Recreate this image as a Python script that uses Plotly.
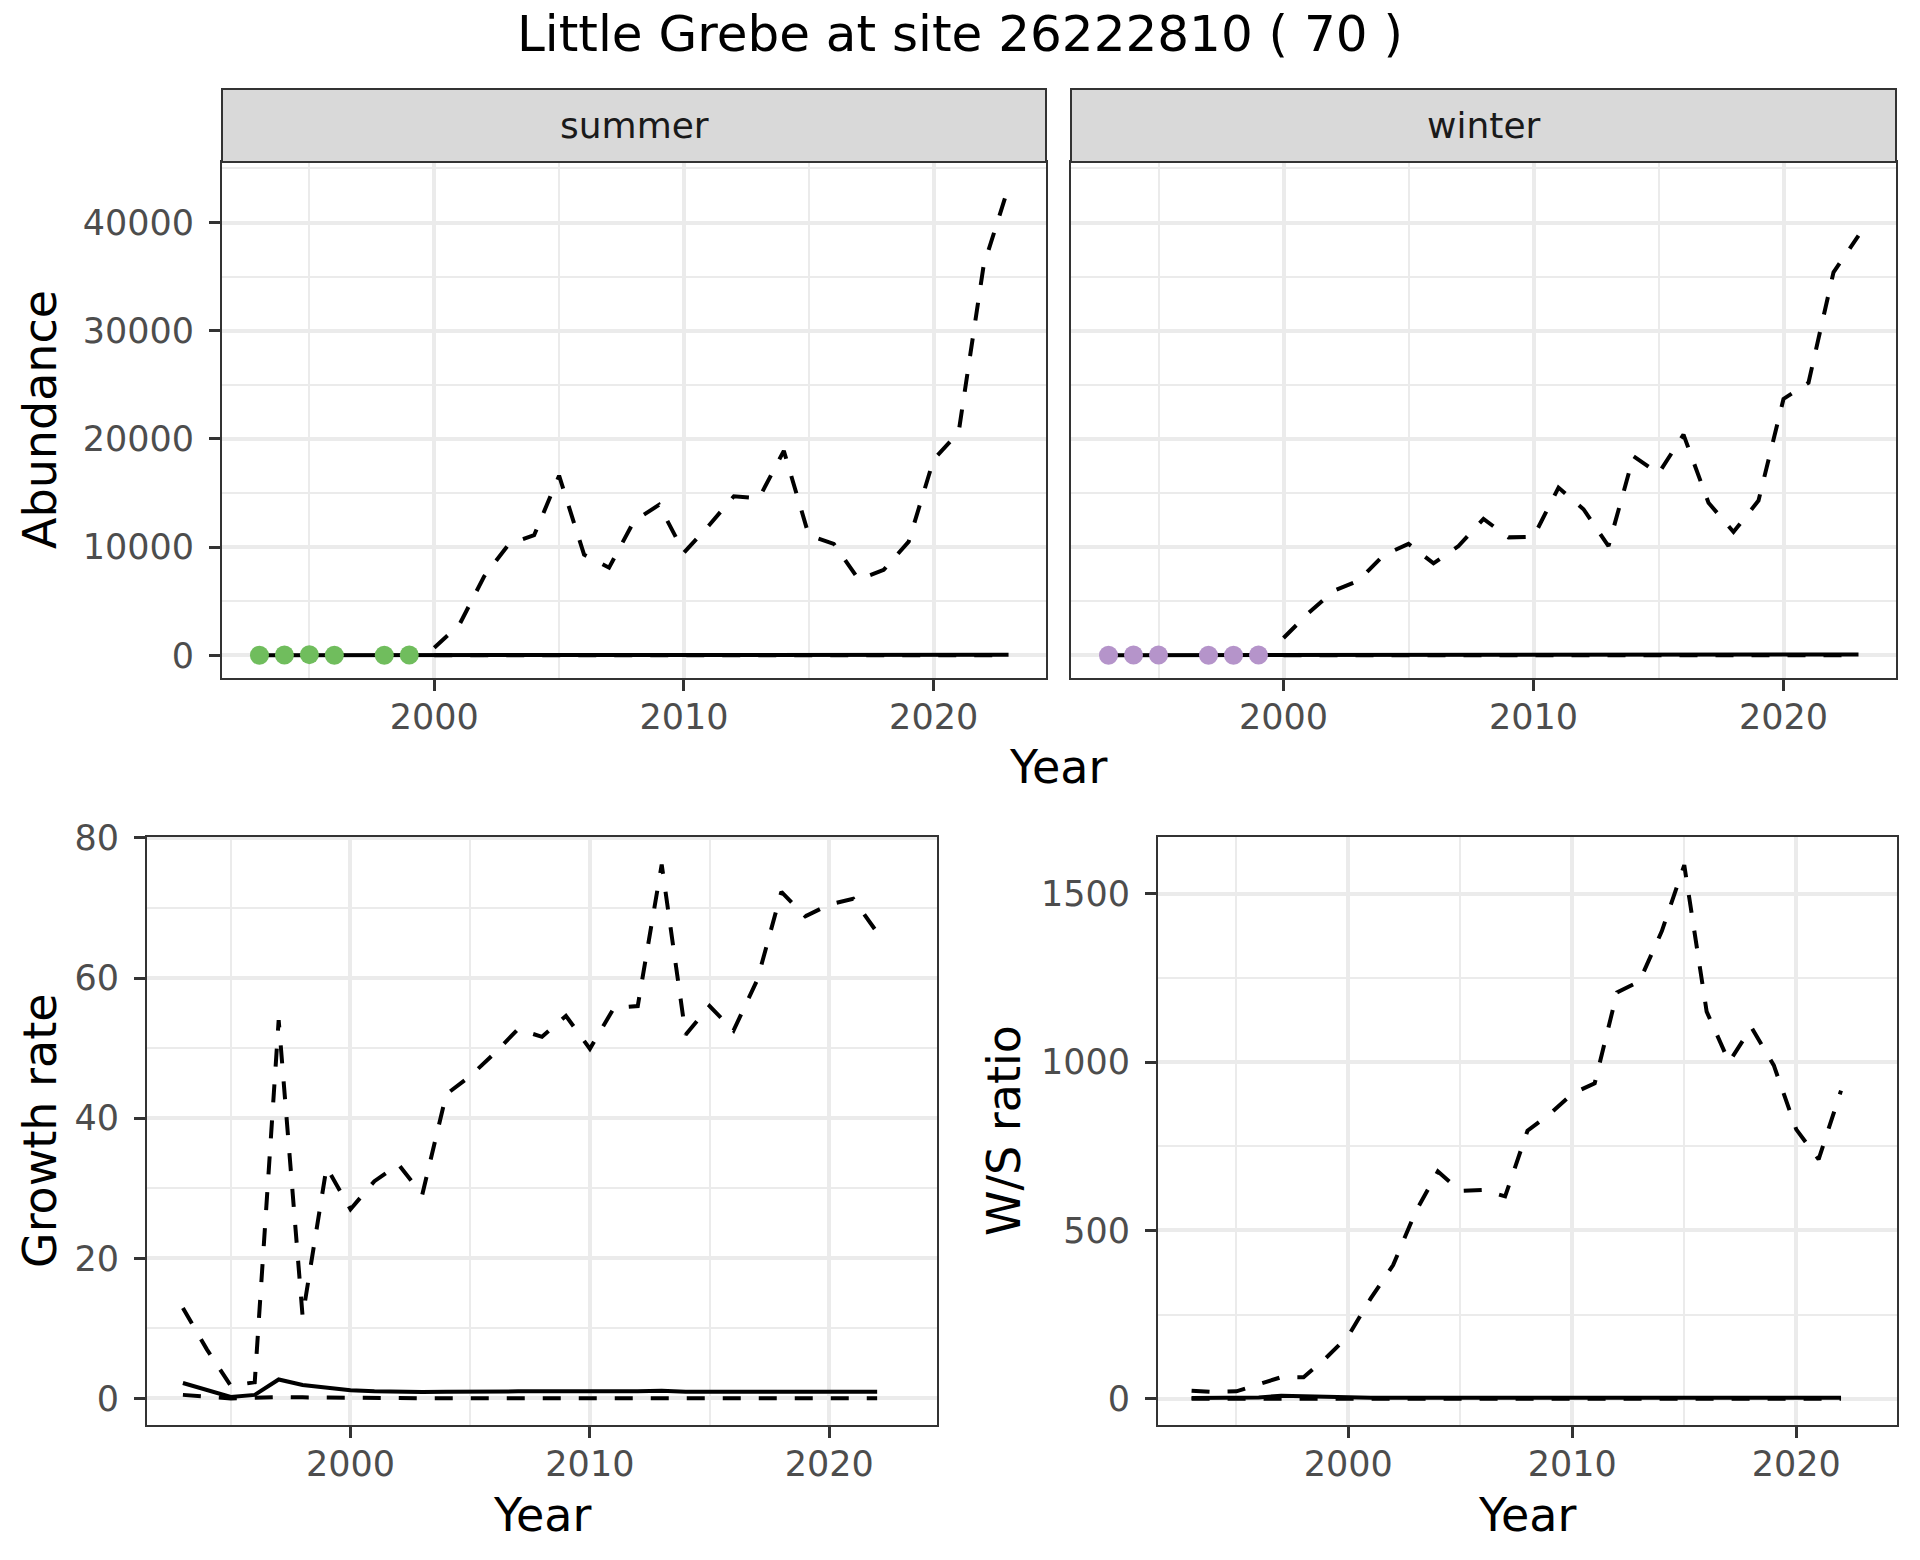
import plotly.graph_objects as go

W, H = 1920, 1560

# ---------------- data ----------------
years_abund = list(range(1993, 2024))
summer_upper = [None]*7 + [700, 2800, 7300, 10300, 11100, 16600, 9300, 8100, 12400, 13900,
                           9500, 12000, 14700, 14500, 18900, 11100, 10300, 7000, 7900, 10500,
                           18100, 20600, 36000, 43300]
summer_est = [5, 8, 12, 10, 8, 9, 10, 20, 25, 30, 30, 30, 35, 30, 28, 30, 30, 28, 30, 32,
              32, 35, 30, 30, 28, 28, 30, 35, 38, 45, 50]
summer_lower = [None]*7 + [0]*24
winter_upper = [None]*7 + [1600, 3900, 5950, 6900, 9250, 10300, 8500, 10100, 12600, 10900,
                           10950, 15500, 13500, 10100, 18400, 16800, 20400, 14100, 11400, 14300,
                           23700, 25200, 35400, 38800]
winter_est = [10, 12, 12, 15, 15, 15, 20, 30, 35, 40, 40, 45, 45, 40, 42, 45, 45, 45, 48, 50,
              48, 52, 50, 55, 50, 48, 52, 58, 60, 65, 70]
winter_lower = [None]*7 + [0]*24

summer_obs_years = [1993, 1994, 1995, 1996, 1998, 1999]
summer_obs = [10, 20, 60, 10, 10, 20]
winter_obs_years = [1993, 1994, 1995, 1997, 1998, 1999]
winter_obs = [10, 30, 20, 0, 10, 20]

years_rate = list(range(1993, 2023))
growth_upper = [12.9, 7.0, 1.8, 2.3, 54.0, 11.7, 33.0, 27.0, 31.0, 33.4, 29.1, 43.4, 46.0, 49.2,
                52.7, 51.6, 54.6, 49.9, 55.7, 56.0, 76.2, 51.9, 56.0, 52.5, 59.8, 72.3, 68.8,
                70.5, 71.3, 66.5]
growth_mean = [2.2, 1.2, 0.2, 0.5, 2.7, 1.9, 1.5, 1.15, 1.0, 0.9, 0.9, 0.95, 1.0, 1.0, 1.0, 1.0,
               1.0, 1.0, 0.95, 1.0, 1.1, 0.95, 0.95, 0.95, 1.0, 1.0, 1.0, 1.0, 1.0, 0.95]
growth_lower = [0.5, 0.3, 0.0, 0.1, 0.2, 0.15, 0.1, 0.05, 0.02, 0.02, 0.02, 0.02, 0.02, 0.02,
                0.02, 0.02, 0.02, 0.02, 0.02, 0.02, 0.02, 0.02, 0.02, 0.02, 0.02, 0.02, 0.02,
                0.02, 0.02, 0.02]
ws_upper = [24, 20, 22, 44, 64, 64, 121, 187, 298, 397, 555, 675, 617, 620, 601, 796, 846, 906,
            937, 1207, 1240, 1389, 1585, 1150, 1000, 1103, 990, 800, 711, 915]
ws_mean = [2, 2, 2, 4, 9, 7, 4, 3, 3, 3, 3, 3, 3, 3, 3, 3, 3, 3, 3, 3, 3, 3, 3, 3, 3, 3, 3, 3, 3, 3]
ws_lower = [0]*30

title_text = "Little Grebe at site 26222810 ( 70 )"
facet_labels = ["summer", "winter"]

# ---------------- layout geometry (pixels) ----------------
def dx(a, b):
    return [a / W, b / W]

def dy(top, bottom):
    return [1 - bottom / H, 1 - top / H]

FONT = "DejaVu Sans"
TICKC = "#4D4D4D"
GRID = "#EBEBEB"
BORDER = "#333333"
LW = 4
DASH = "18px,18px"

fig = go.Figure()

def add_line(x, y, xa, ya, dash=None):
    fig.add_trace(go.Scatter(x=x, y=y, mode="lines", xaxis=xa, yaxis=ya,
                             line=dict(color="black", width=LW, dash=dash),
                             showlegend=False, hoverinfo="skip", connectgaps=False))

# top-left (summer)
add_line(years_abund, summer_lower, "x", "y", DASH)
add_line(years_abund, summer_est, "x", "y")
add_line(years_abund, summer_upper, "x", "y", DASH)
fig.add_trace(go.Scatter(x=summer_obs_years, y=summer_obs, mode="markers", xaxis="x", yaxis="y",
                         marker=dict(color="#70BD5D", size=19, line=dict(width=0)),
                         showlegend=False))
# top-right (winter)
add_line(years_abund, winter_lower, "x2", "y2", DASH)
add_line(years_abund, winter_est, "x2", "y2")
add_line(years_abund, winter_upper, "x2", "y2", DASH)
fig.add_trace(go.Scatter(x=winter_obs_years, y=winter_obs, mode="markers", xaxis="x2", yaxis="y2",
                         marker=dict(color="#B594CA", size=19, line=dict(width=0)),
                         showlegend=False))
# bottom-left (growth)
add_line(years_rate, growth_lower, "x3", "y3", DASH)
add_line(years_rate, growth_mean, "x3", "y3")
add_line(years_rate, growth_upper, "x3", "y3", DASH)
# bottom-right (W/S)
add_line(years_rate, ws_lower, "x4", "y4", DASH)
add_line(years_rate, ws_mean, "x4", "y4")
add_line(years_rate, ws_upper, "x4", "y4", DASH)

tickfont = dict(family=FONT, size=35, color=TICKC)

def xaxis(domain, anchor):
    return dict(domain=domain, anchor=anchor, range=[1991.5, 2024.5],
                tickvals=[2000, 2010, 2020], ticks="outside", ticklen=11, tickwidth=2.5,
                tickcolor=BORDER, tickfont=tickfont, ticklabelstandoff=-4,
                showgrid=True, gridcolor=GRID, gridwidth=3.5,
                minor=dict(tickvals=[1995, 2005, 2015], showgrid=True, gridcolor=GRID,
                           gridwidth=2, ticks=""),
                showline=True, mirror=True, linecolor=BORDER, linewidth=2, zeroline=False)

def yaxis(domain, anchor, rng, major, minor, labels=True):
    d = dict(domain=domain, anchor=anchor, range=rng, tickvals=major,
             ticks="outside" if labels else "", ticklen=11, tickwidth=2.5, tickcolor=BORDER,
             showticklabels=labels, tickfont=tickfont, tickformat="d",
             showgrid=True, gridcolor=GRID, gridwidth=3.5,
             minor=dict(tickvals=minor, showgrid=True, gridcolor=GRID, gridwidth=2, ticks=""),
             showline=True, mirror=True, linecolor=BORDER, linewidth=2, zeroline=False)
    if labels:
        d["ticklabelstandoff"] = 8
    return d

top_dom_y = dy(162, 678)
bot_dom_y = dy(836.5, 1425)
abund_major = [0, 10000, 20000, 30000, 40000]
abund_minor = [5000, 15000, 25000, 35000, 45000]

fig.update_layout(
    width=W, height=H, margin=dict(l=0, r=0, t=0, b=0, autoexpand=False),
    paper_bgcolor="white", plot_bgcolor="white", showlegend=False,
    xaxis=xaxis(dx(222, 1046), "y"),
    yaxis=yaxis(top_dom_y, "x", [-2100, 45600], abund_major, abund_minor),
    xaxis2=xaxis(dx(1071, 1896), "y2"),
    yaxis2=yaxis(top_dom_y, "x2", [-2100, 45600], abund_major, abund_minor, labels=False),
    xaxis3=xaxis(dx(147, 937), "y3"),
    yaxis3=yaxis(bot_dom_y, "x3", [-3.8, 80.2], [0, 20, 40, 60, 80], [10, 30, 50, 70]),
    xaxis4=xaxis(dx(1158, 1897), "y4"),
    yaxis4=yaxis(bot_dom_y, "x4", [-78, 1670], [0, 500, 1000, 1500], [250, 750, 1250]),
)

shapes = []
annots = []
for (x0, x1), lab in zip([(222, 1046), (1071, 1896)], facet_labels):
    shapes.append(dict(type="rect", xref="paper", yref="paper",
                       x0=x0 / W, x1=x1 / W, y0=1 - 162 / H, y1=1 - 89 / H,
                       fillcolor="#D9D9D9", line=dict(color=BORDER, width=2), layer="above"))
    annots.append(dict(text=lab, x=(x0 + x1) / 2 / W, y=1 - 125.5 / H, xref="paper", yref="paper",
                       showarrow=False, xanchor="center", yanchor="middle",
                       font=dict(family=FONT, size=36, color="#1A1A1A")))

def ann(text, xp, yp, size=46, angle=0):
    annots.append(dict(text=text, x=xp / W, y=1 - yp / H, xref="paper", yref="paper",
                       showarrow=False, xanchor="center", yanchor="middle", textangle=angle,
                       font=dict(family=FONT, size=size, color="black")))

ann(title_text, 960, 34, size=50)
ann("Abundance", 40, 420, angle=-90)
ann("Year", 1058, 767)
ann("Growth rate", 40, 1131, angle=-90)
ann("Year", 542, 1515)
ann("W/S ratio", 1004, 1131, angle=-90)
ann("Year", 1527, 1515)

fig.update_layout(shapes=shapes, annotations=annots)
fig.write_html("out.html", config={"displayModeBar": False},
               post_script="document.body.style.margin='0px';document.body.style.overflow='hidden';")
